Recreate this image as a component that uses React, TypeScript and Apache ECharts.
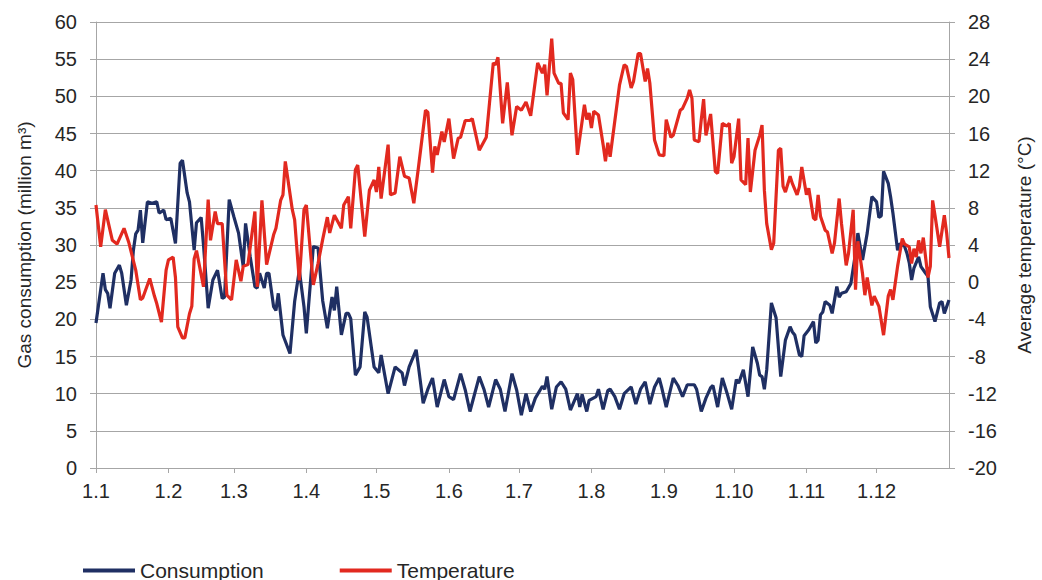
import React, { useEffect, useRef } from "react";
import * as echarts from "echarts";

const monthStarts = [0, 31, 59, 90, 120, 151, 181, 212, 243, 273, 304, 334];
const monthLabels = ["1.1", "1.2", "1.3", "1.4", "1.5", "1.6", "1.7", "1.8", "1.9", "1.10", "1.11", "1.12"];

const consumptionDays = [0,3,4,5,6,8,10,11,13,15,16,17,18,19,20,22,24,26,27,29,30,32,34,36,37,39,40,42,43,45,46,48,50,52,54,55,57,59,61,63,64,66,68,69,70,72,73,74,76,77,78,80,83,85,87,89,90,93,95,97,99,101,102,103,105,107,108,109,111,113,115,116,119,121,122,125,128,131,132,134,137,138,140,142,144,146,149,151,153,156,158,160,164,166,168,171,173,175,178,180,182,184,186,188,191,192,193,195,197,199,201,203,206,207,208,210,211,214,215,217,219,220,222,224,226,228,229,231,233,235,237,239,241,242,244,247,249,251,253,256,257,259,261,263,264,266,268,270,272,274,275,277,279,281,283,284,285,286,287,289,291,293,295,297,298,299,301,302,303,305,307,308,309,310,311,312,314,315,317,318,319,321,323,325,326,328,330,332,334,335,336,337,339,340,341,343,344,346,347,348,349,350,352,353,355,356,357,359,361,362,363,365];
const consumptionValues = [19.5,26.2,24.0,23.5,21.5,26.2,27.3,26.2,21.9,25.3,29.3,31.5,32.0,34.7,30.3,35.8,35.6,35.8,34.3,34.7,33.4,33.6,30.2,41.0,41.4,37.0,35.8,29.3,33.0,33.7,30.0,21.5,25.3,26.6,22.8,23.0,36.1,33.8,31.6,27.1,32.9,28.4,24.4,24.2,26.2,24.2,26.2,26.2,21.7,21.2,23.5,17.9,15.4,22.4,26.6,21.7,18.1,29.8,29.6,22.5,18.8,23.0,21.2,24.4,17.9,20.8,20.8,20.1,12.5,13.6,21.0,20.3,13.6,12.8,15.2,10.0,13.6,12.8,11.1,13.6,15.9,13.6,8.7,10.6,12.1,8.2,11.9,9.6,9.2,12.7,10.5,7.6,12.3,10.6,8.2,11.9,10.6,7.6,12.7,10.5,7.1,10.0,7.6,9.4,11.0,10.6,12.3,7.9,10.9,11.6,10.6,7.8,10.0,8.2,9.9,7.6,9.1,9.6,10.6,7.9,10.4,10.6,9.6,7.9,10.0,10.6,10.9,8.6,10.6,11.6,8.6,10.9,12.1,10.9,8.2,12.1,11.1,9.6,11.2,11.2,10.6,7.6,9.4,10.8,11.1,8.2,12.1,10.1,7.9,11.9,11.4,13.2,9.6,16.3,14.1,12.5,12.3,10.6,13.2,22.2,20.2,12.3,17.2,19.0,18.3,17.9,15.2,15.0,17.8,18.6,19.7,16.8,17.2,20.6,21.0,22.4,21.9,20.8,24.4,23.0,23.5,23.7,24.8,28.9,31.6,28.0,31.6,36.5,35.8,33.7,33.9,39.9,38.3,36.5,34.3,29.3,30.2,29.8,28.9,27.6,25.3,26.9,28.4,27.1,26.2,25.8,21.7,19.7,22.2,22.4,20.8,22.6];

const temperatureDays = [0,2,4,7,9,12,14,17,19,20,23,25,26,28,30,31,33,34,35,37,38,40,41,42,43,46,48,49,51,52,54,56,58,60,62,63,65,68,69,71,73,76,77,79,80,81,84,85,87,89,90,93,95,97,99,100,102,105,106,108,109,111,112,115,117,119,120,121,122,125,126,128,130,132,134,136,138,141,142,144,145,146,148,149,151,153,155,156,158,160,161,164,167,170,171,172,174,176,178,180,182,184,186,189,191,192,193,195,196,198,199,200,202,203,204,206,209,210,211,212,213,215,217,218,219,220,224,226,227,229,230,232,233,235,236,237,239,241,243,244,246,247,250,251,253,254,255,256,258,259,260,261,263,265,266,268,270,271,272,273,275,276,278,279,280,282,284,285,286,287,289,290,292,293,294,295,297,298,300,301,302,304,305,307,308,309,310,312,313,315,316,318,319,321,322,324,325,326,328,329,330,332,333,335,337,339,340,341,343,345,346,348,349,350,351,352,353,354,356,357,358,359,361,363,364,365];
const temperatureValues = [8.3,3.8,7.8,4.5,4.1,5.8,4.3,1.3,-1.9,-1.7,0.4,-1.5,-2.3,-4.3,1.3,2.4,2.7,0.5,-4.8,-6.0,-6.0,-3.4,-2.6,2.5,3.4,-0.5,8.9,4.5,7.6,6.3,6.3,-1.4,-1.9,2.4,0.1,1.7,1.9,7.6,-0.5,8.8,1.9,5.1,5.8,8.8,9.4,13.0,7.8,6.7,0.2,7.8,8.3,-0.3,2.0,4.6,7.0,5.3,7.2,5.8,8.3,9.2,5.8,12.1,12.6,4.9,9.9,11.0,9.7,12.4,9.0,14.8,9.4,9.6,13.5,11.4,11.2,8.5,12.4,18.5,18.3,11.8,14.6,13.7,16.2,15.1,17.6,13.3,15.5,15.6,17.4,17.4,17.6,14.2,15.6,23.6,23.4,24.2,17.1,21.5,15.8,18.9,18.5,19.4,17.9,23.6,22.5,23.4,20.1,26.2,22.5,21.4,21.4,18.2,17.5,22.5,21.8,13.7,19.1,17.5,18.2,16.6,18.4,18.0,14.8,13.0,15.0,13.5,21.2,23.4,23.2,20.9,21.6,24.6,24.6,21.6,23.0,21.4,15.3,13.7,13.6,17.5,15.6,15.8,18.5,18.7,19.8,20.7,19.8,15.3,15.1,17.5,19.7,15.8,18.1,11.9,11.7,17.1,16.8,17.1,12.8,13.5,17.6,11.0,10.5,15.5,9.7,14.2,15.8,16.9,9.9,6.3,3.5,4.2,14.2,14.4,10.3,9.7,11.4,10.6,9.4,10.3,12.4,9.4,10.1,6.9,6.7,9.4,7.1,5.6,5.4,3.1,4.2,9.0,6.3,1.8,3.1,7.8,-0.8,4.4,0.9,-1.4,0.5,-2.5,-1.5,-2.6,-5.7,-1.5,-0.8,-1.9,1.7,4.7,4.1,3.8,2.0,3.6,2.7,4.5,3.1,4.8,0.5,1.7,8.8,7.2,3.8,7.2,5.3,2.6];

const NAVY = "#1F2F63";
const RED = "#E2291F";
const GRID = "#A6A6A6";
const TEXT = "#262626";
const FONT = "Liberation Sans, Arial, sans-serif";

export default function App() {
  const ref = useRef<HTMLDivElement>(null);
  useEffect(() => {
    if (!ref.current) return;
    const chart = echarts.init(ref.current, undefined, { renderer: "svg" });
    const consumption = consumptionDays.map((d, i) => [d, consumptionValues[i]]);
    const temperature = temperatureDays.map((d, i) => [d, temperatureValues[i]]);
    chart.setOption({
      animation: false,
      backgroundColor: "#ffffff",
      textStyle: { fontFamily: FONT },
      grid: { left: 96, right: 89, top: 22, bottom: 112, containLabel: false },
      legend: {
        data: ["Consumption", "Temperature"],
        left: 78,
        top: 555,
        itemWidth: 52,
        itemHeight: 4,
        itemGap: 76,
        icon: "rect",
        textStyle: { fontSize: 21, color: TEXT, fontFamily: FONT },
      },
      xAxis: {
        type: "value",
        min: 0,
        max: 365,
        axisLine: { show: true, lineStyle: { color: GRID, width: 1 } },
        axisTick: { show: true, customValues: monthStarts, length: 5, lineStyle: { color: GRID } },
        axisLabel: {
          customValues: monthStarts,
          formatter: (v: number) => monthLabels[monthStarts.indexOf(Math.round(v))] ?? "",
          fontSize: 20,
          color: TEXT,
          fontFamily: FONT,
          margin: 13,
        },
        splitLine: { show: false },
      },
      yAxis: [
        {
          type: "value",
          min: 0,
          max: 60,
          interval: 5,
          name: "Gas consumption (million m³)",
          nameLocation: "middle",
          nameGap: 62,
          nameTextStyle: { fontSize: 19, color: TEXT, fontFamily: FONT },
          axisLine: { show: true, lineStyle: { color: GRID } },
          axisTick: { show: true, length: 6, lineStyle: { color: GRID } },
          axisLabel: { fontSize: 20, color: TEXT, fontFamily: FONT, margin: 19 },
          splitLine: { show: true, lineStyle: { color: GRID, width: 1 } },
        },
        {
          type: "value",
          min: -20,
          max: 28,
          interval: 4,
          position: "right",
          name: "Average temperature (°C)",
          nameLocation: "middle",
          nameGap: 66,
          nameRotate: 90,
          nameTextStyle: { fontSize: 19, color: TEXT, fontFamily: FONT },
          axisLine: { show: true, lineStyle: { color: GRID } },
          axisTick: { show: true, length: 6, lineStyle: { color: GRID } },
          axisLabel: { fontSize: 20, color: TEXT, fontFamily: FONT, margin: 19 },
          splitLine: { show: false },
        },
      ],
      series: [
        {
          name: "Consumption",
          type: "line",
          yAxisIndex: 0,
          data: consumption,
          symbol: "none",
          lineStyle: { color: NAVY, width: 3.2 },
          itemStyle: { color: NAVY },
        },
        {
          name: "Temperature",
          type: "line",
          yAxisIndex: 1,
          data: temperature,
          symbol: "none",
          lineStyle: { color: RED, width: 3.2 },
          itemStyle: { color: RED },
        },
      ],
    });
    return () => chart.dispose();
  }, []);
  return <div ref={ref} style={{ width: 1042, height: 580, position: "absolute", left: 0, top: 0 }} />;
}
